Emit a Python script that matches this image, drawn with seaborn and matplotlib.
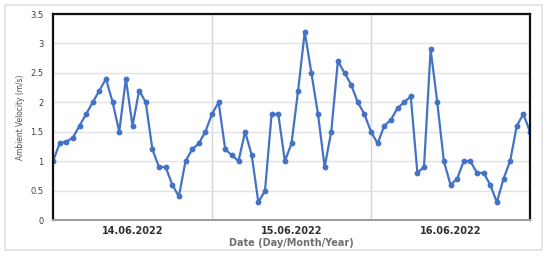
import matplotlib
matplotlib.use("Agg")
import matplotlib.pyplot as plt
import seaborn as sns
import pandas as pd
from matplotlib.patches import Rectangle

day_labels = ["14.06.2022", "15.06.2022", "16.06.2022"]
velocity = [
    1.0, 1.3, 1.33, 1.4, 1.6, 1.8, 2.0, 2.2, 2.4, 2.0, 1.5, 2.4,
    1.6, 2.2, 2.0, 1.2, 0.9, 0.9, 0.6, 0.4, 1.0, 1.2, 1.3, 1.5,
    1.8, 2.0, 1.2, 1.1, 1.0, 1.5, 1.1, 0.3, 0.5, 1.8, 1.8, 1.0,
    1.3, 2.2, 3.2, 2.5, 1.8, 0.9, 1.5, 2.7, 2.5, 2.3, 2.0, 1.8,
    1.5, 1.3, 1.6, 1.7, 1.9, 2.0, 2.1, 0.8, 0.9, 2.9, 2.0, 1.0,
    0.6, 0.7, 1.0, 1.0, 0.8, 0.8, 0.6, 0.3, 0.7, 1.0, 1.6, 1.8,
    1.5,
]
hours = list(range(len(velocity)))

df = pd.DataFrame({"hour": hours, "velocity": velocity})

sns.set_theme(style="white")
plt.rcParams["font.family"] = ["DejaVu Sans"]

fig = plt.figure(figsize=(5.5, 2.56), dpi=100)
fig.patch.set_facecolor("white")
ax = fig.add_axes([53/550, 36/256, 477/550, 206/256])

sns.lineplot(data=df, x="hour", y="velocity", ax=ax, color="#4472C4",
             marker="o", markersize=4.2, markeredgewidth=0, linewidth=1.6)

ax.set_xlim(0, 72)
ax.set_ylim(0, 3.5)
ax.set_yticks([0, 0.5, 1, 1.5, 2, 2.5, 3, 3.5])
ax.set_yticklabels(["0", "0.5", "1", "1.5", "2", "2.5", "3", "3.5"],
                   fontsize=6, color="#404040")
ax.set_xticks([12, 36, 60])
ax.set_xticklabels(day_labels, fontsize=7, fontweight="bold", color="#303030")
ax.set_xticks([24, 48], minor=True)
ax.tick_params(axis="both", which="both", length=0, pad=4)
ax.tick_params(axis="y", pad=7)

ax.grid(True, axis="y", which="major", color="#e2e2e2", linewidth=1.0)
ax.grid(True, axis="x", which="minor", color="#d6d6d6", linewidth=1.0)
ax.grid(False, axis="x", which="major")
ax.set_axisbelow(True)

for side in ["left", "top", "right"]:
    ax.spines[side].set_visible(True)
    ax.spines[side].set_color("#111111")
    ax.spines[side].set_linewidth(1.6)
ax.spines["bottom"].set_color("#9a9a9a")
ax.spines["bottom"].set_linewidth(1.4)

ax.set_xlabel("Date (Day/Month/Year)", fontsize=7, fontweight="bold",
              color="#707070", labelpad=1.5)
ax.set_ylabel("Ambient Velocity (m/s)", fontsize=6, color="#505050",
              fontstretch="condensed")
ax.yaxis.set_label_coords(-28/477, 0.5)

fig.patches.append(Rectangle((5/550, 6/256), 537/550, 245/256,
                             transform=fig.transFigure, fill=False,
                             edgecolor="#e0e0e0", linewidth=1.2))

fig.savefig("out.png", dpi=100)
